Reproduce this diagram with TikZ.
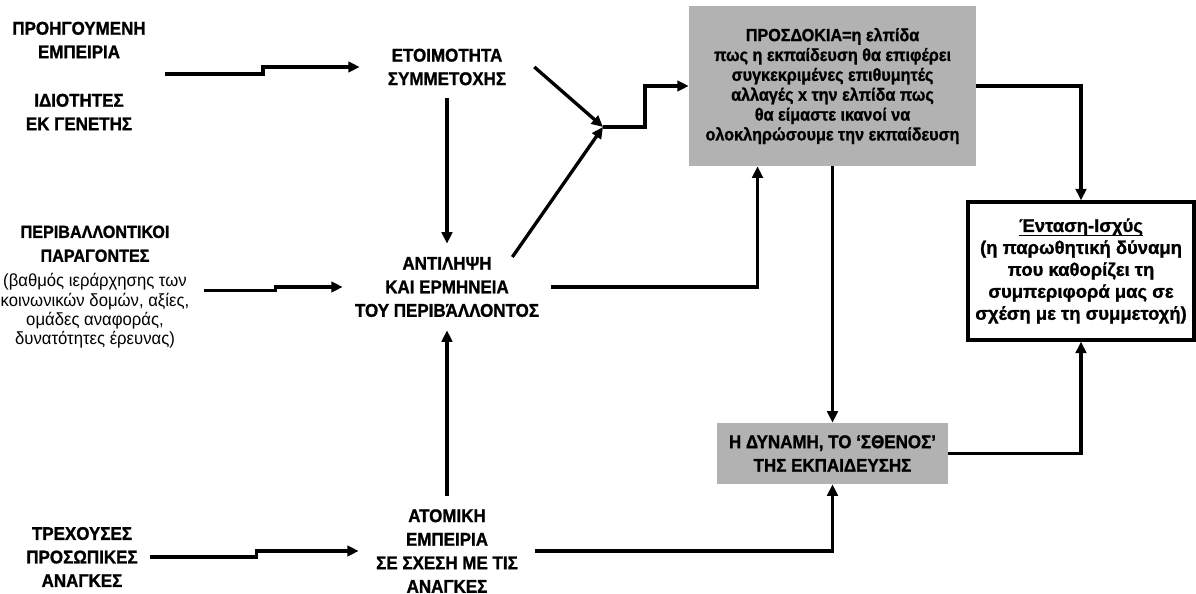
\documentclass[tikz,border=0pt]{standalone}
\usepackage{fontspec}
\setmainfont{Liberation Sans}[FakeStretch=0.95]
\newfontfamily\boldnarrow{Liberation Sans Bold}[FakeStretch=0.92, FakeBold=1.2]
\newfontfamily\boldwide{Liberation Sans Bold}[FakeBold=1.2]
\usetikzlibrary{arrows.meta}

\begin{document}
\begin{tikzpicture}[x=0.02cm, y=-0.02cm,
    lbl/.style={align=center, inner sep=0pt,
                font=\boldnarrow\fontsize{10.5}{13.4}\selectfont},
    greybox/.style={fill=black!30, align=center, inner sep=0pt,
                font=\boldnarrow\fontsize{10.5}{13.4}\selectfont},
    framebox/.style={draw, line width=1.9pt, align=center, inner sep=0pt,
                font=\boldwide\fontsize{10.5}{12.5}\selectfont},
    arrow/.style={-{Triangle[length=6.5pt, width=6pt]}, line width=1.9pt},
]
\useasboundingbox (0,0) rectangle (1196,594);

% --- Left column ---
\node[lbl] (prev) at (79,40) {ΠΡΟΗΓΟΥΜΕΝΗ\\ΕΜΠΕΙΡΙΑ};
\node[lbl] (innate) at (79,112) {ΙΔΙΟΤΗΤΕΣ\\ΕΚ ΓΕΝΕΤΗΣ};
\coordinate (traits) at (165,74);
\node[lbl, minimum width=4.36cm, font=\normalfont\fontsize{10}{11}\selectfont] (envf) at (95,287)
    {{\boldnarrow ΠΕΡΙΒΑΛΛΟΝΤΙΚΟΙ}\\[2.6pt] {\boldnarrow ΠΑΡΑΓΟΝΤΕΣ}\\[3.2pt]
     (βαθμός ιεράρχησης των\\ κοινωνικών δομών, αξίες,\\
     ομάδες αναφοράς,\\ δυνατότητες έρευνας)};
\node[lbl, minimum width=2.72cm] (needs) at (82,557)
    {ΤΡΕΧΟΥΣΕΣ\\ΠΡΟΣΩΠΙΚΕΣ\\ΑΝΑΓΚΕΣ};

% --- Middle column ---
\node[lbl, minimum width=3.48cm, minimum height=1.24cm] (ready) at (447,67)
    {ΕΤΟΙΜΟΤΗΤΑ\\ΣΥΜΜΕΤΟΧΗΣ};
\node[lbl, minimum width=4.16cm, minimum height=1.72cm] (percep) at (447,287)
    {ΑΝΤΙΛΗΨΗ\\ΚΑΙ ΕΡΜΗΝΕΙΑ\\ΤΟΥ ΠΕΡΙΒΆΛΛΟΝΤΟΣ};
\node[lbl, minimum width=3.52cm, minimum height=2.2cm] (indiv) at (447,551)
    {ΑΤΟΜΙΚΗ\\ΕΜΠΕΙΡΙΑ\\ΣΕ ΣΧΕΣΗ ΜΕ ΤΙΣ\\ΑΝΑΓΚΕΣ};
\coordinate (join) at (603,127);

% --- Right column ---
\node[greybox, minimum width=5.74cm, minimum height=3.2cm,
      font=\boldnarrow\fontsize{10}{11.3}\selectfont] (expect) at (832.5,86)
    {ΠΡΟΣΔΟΚΙΑ=η ελπίδα\\ πως η εκπαίδευση θα επιφέρει\\
     συγκεκριμένες επιθυμητές\\ αλλαγές x την ελπίδα πως\\
     θα είμαστε ικανοί να\\ ολοκληρώσουμε την εκπαίδευση};
\node[greybox, minimum width=4.62cm, minimum height=1.22cm] (power) at (832.5,453.5)
    {Η ΔΥΝΑΜΗ, ΤΟ ‘ΣΘΕΝΟΣ’\\ΤΗΣ ΕΚΠΑΙΔΕΥΣΗΣ};
\node[framebox, minimum width=4.52cm, minimum height=2.76cm] (tension) at (1081,271)
    {{\setbox0\hbox{Ένταση-Ισχύς}\rlap{\rule[-2.4pt]{\wd0}{0.7pt}}\box0}\\
     (η παρωθητική δύναμη\\ που καθορίζει τη\\
     συμπεριφορά μας σε\\ σχέση με τη συμμετοχή)};

% --- Inputs ---
\draw[arrow] (traits) -- ++(98,0) |- (ready.west);
\draw[arrow] ([yshift=-0.07cm]envf.east) -- ++(71,0) |- (percep.west);
\draw[arrow] (needs.east) -- ++(106,0) |- (indiv.west);

% --- Middle flow ---
\draw[arrow] (ready.south) -- (percep.north);
\draw[arrow] (indiv.north) -- (percep.south);
\draw[arrow] (ready.east) -- (join);
\draw[arrow] ([xshift=-0.78cm, yshift=0.6cm]percep.east) -- (join);
\draw[arrow] (join) -- ++(42,0) |- (expect.west);
\draw[arrow] (percep.east) -| ([xshift=-1.5cm]expect.south);

% --- Towards the outcome ---
\draw[arrow] (expect.south) -- (power.north);
\draw[arrow] (indiv.east) -| (power.south);
\draw[arrow] (expect.east) -| (tension.north);
\draw[arrow] (power.east) -| (tension.south);
\end{tikzpicture}
\end{document}
